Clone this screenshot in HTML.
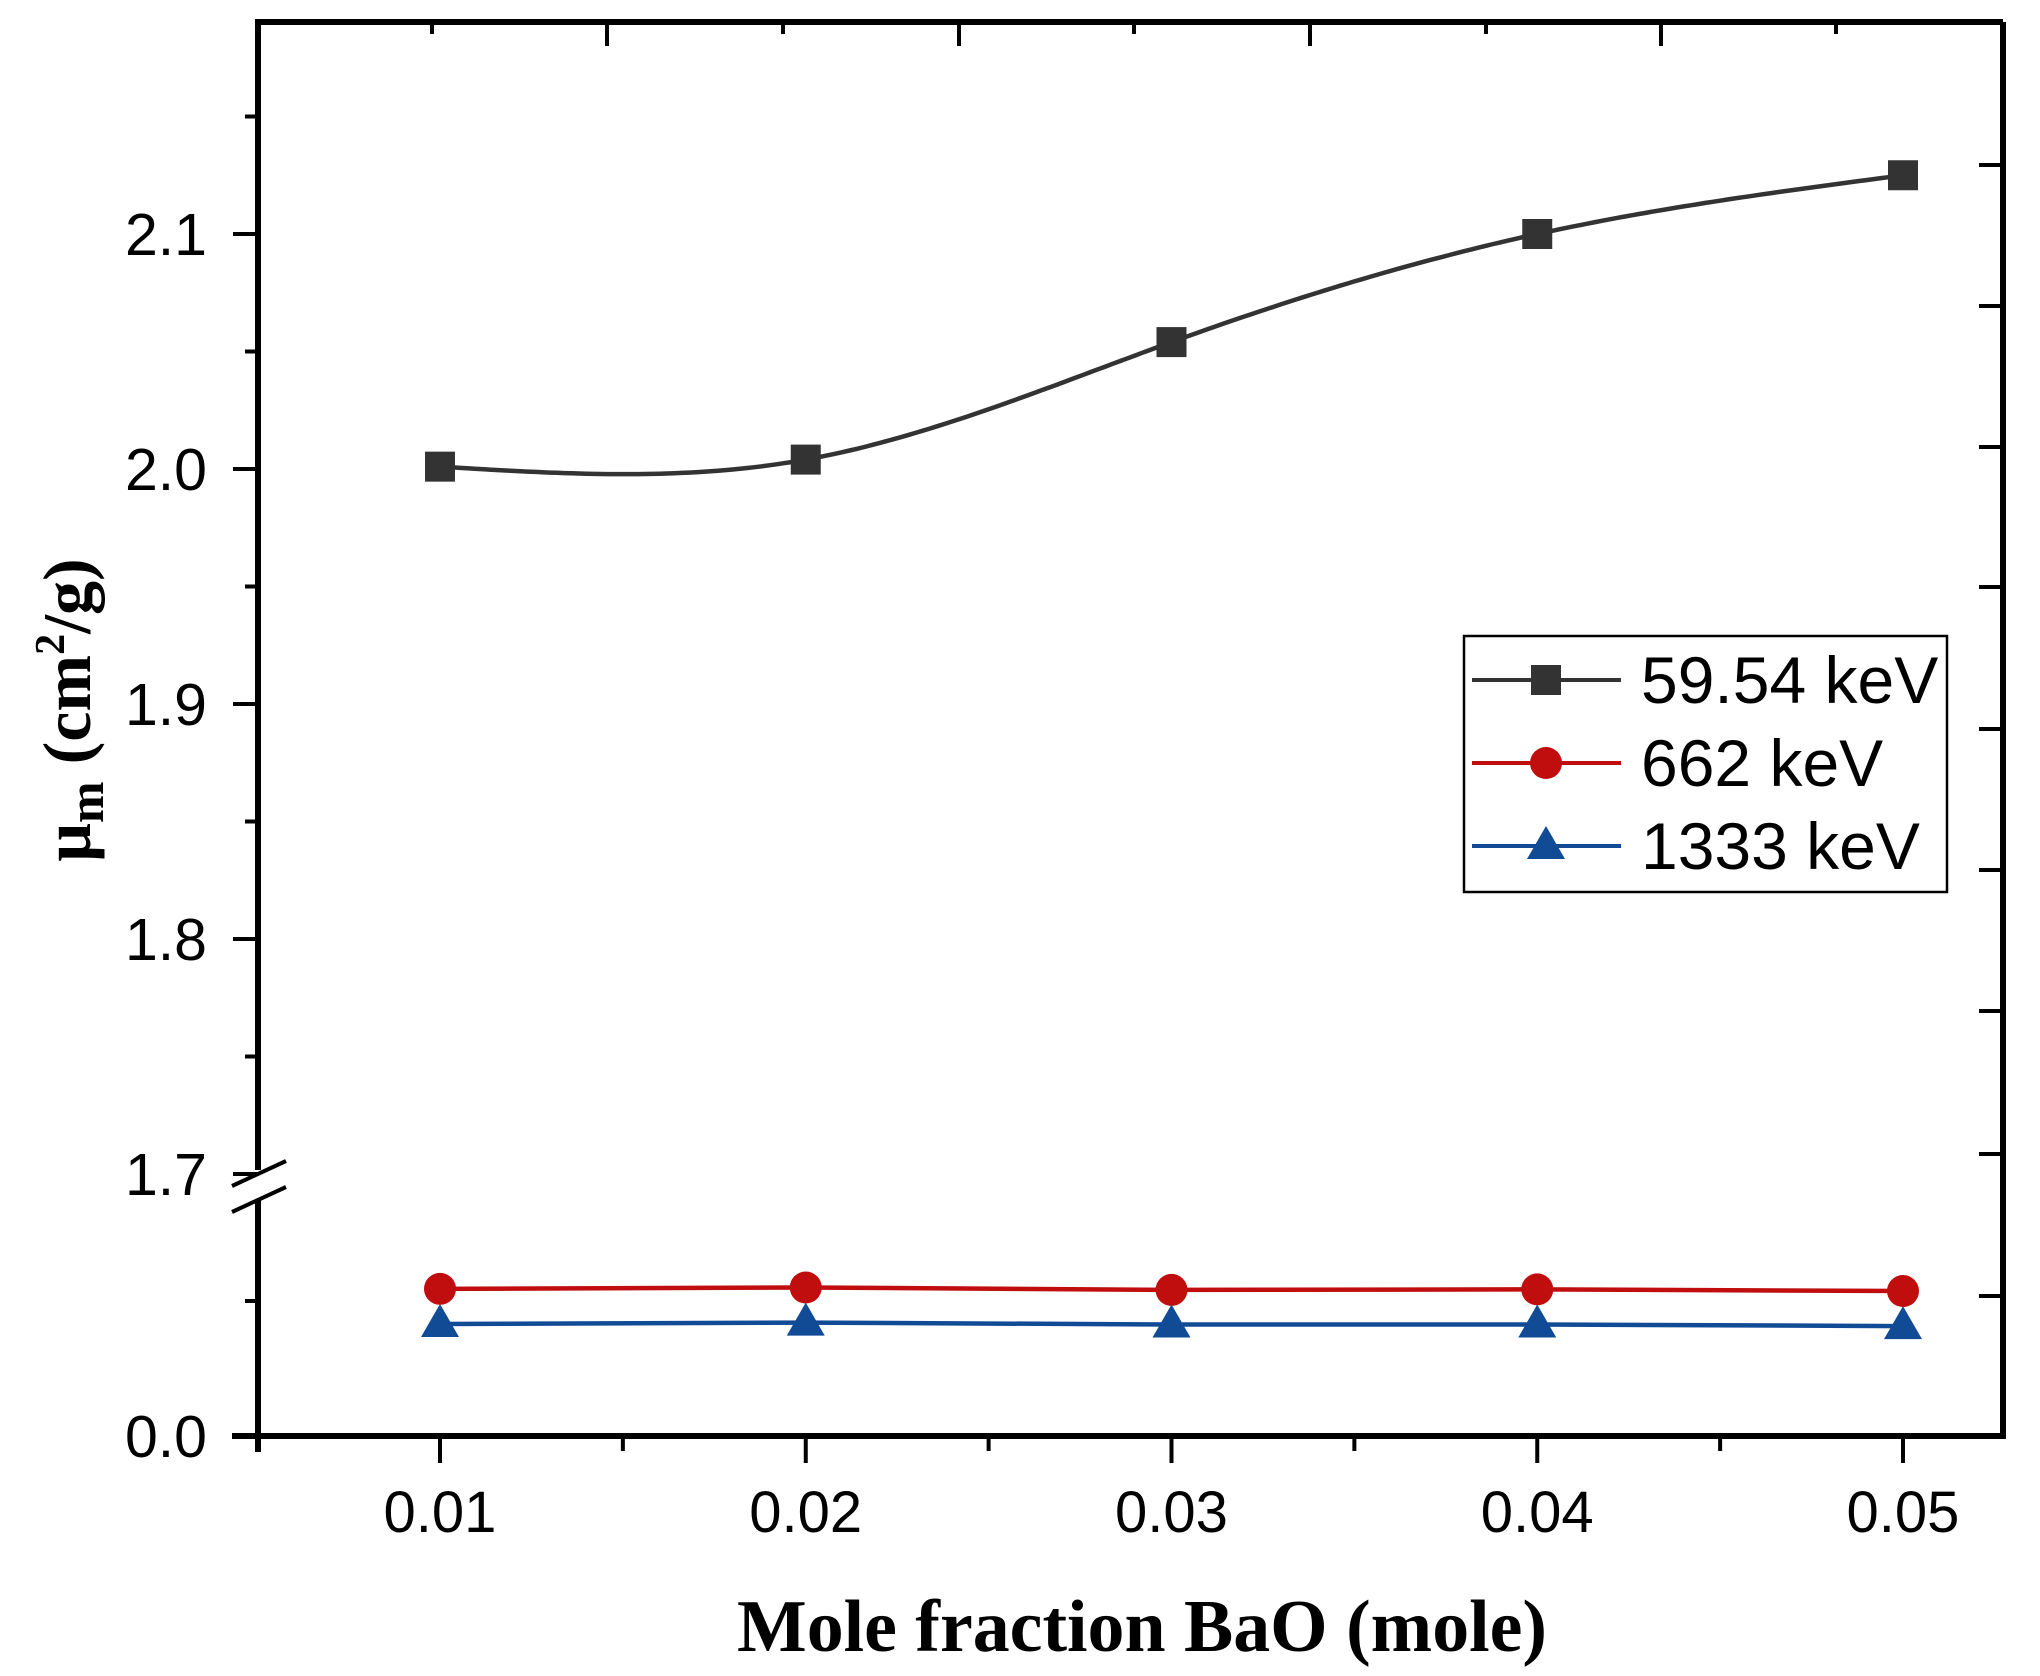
<!DOCTYPE html>
<html><head><meta charset="utf-8"><style>
html,body{margin:0;padding:0;background:#fff;}
svg{display:block;}
</style></head><body>
<svg id="chart" width="2040" height="1676" viewBox="0 0 2040 1676" xmlns="http://www.w3.org/2000/svg"></svg>
<script>
const categories = [0.01, 0.02, 0.03, 0.04, 0.05];
const series59 = [2.001, 2.004, 2.054, 2.100, 2.125];
const series662 = [0.0545, 0.055, 0.0541, 0.0543, 0.0537];
const series1333 = [0.0415, 0.042, 0.0413, 0.0413, 0.0407];
const xTickLabels = ["0.01", "0.02", "0.03", "0.04", "0.05"];
const yUpperTickLabels = ["1.7", "1.8", "1.9", "2.0", "2.1"];
const yLowerTickLabels = ["0.0"];
const legendLabels = ["59.54 keV", "662 keV", "1333 keV"];

const NS = "http://www.w3.org/2000/svg";
const svg = document.getElementById('chart');
function mk(tag, attrs, parent) {
  const e = document.createElementNS(NS, tag);
  for (const k in attrs) e.setAttribute(k, attrs[k]);
  (parent || svg).appendChild(e);
  return e;
}
const L = 258, R = 2003, T = 22, B = 1436;
function xS(v) { return 440 + (v - 0.01) * 36575; }
function yU(v) { return 1174 - (v - 1.7) * 2350; }
function yL(v) { return 1436 - v * 2700; }

let g = mk('g', {});


mk('line', {x1: L, y1: T, x2: R, y2: T, stroke: '#000', 'stroke-width': 6}, g);
mk('line', {x1: R, y1: T, x2: R, y2: B, stroke: '#000', 'stroke-width': 6}, g);
mk('line', {x1: 232, y1: B, x2: R + 3, y2: B, stroke: '#000', 'stroke-width': 6}, g);
mk('line', {x1: L, y1: T - 3, x2: L, y2: 1170, stroke: '#000', 'stroke-width': 6}, g);
mk('line', {x1: L, y1: 1200, x2: L, y2: B + 16, stroke: '#000', 'stroke-width': 6}, g);
mk('rect', {x: 240, y: 1172, width: 40, height: 26, fill: '#fff'}, g);
mk('line', {x1: 232, y1: 1186, x2: 286, y2: 1161, stroke: '#000', 'stroke-width': 4}, g);
mk('line', {x1: 232, y1: 1212, x2: 286, y2: 1187, stroke: '#000', 'stroke-width': 4}, g);

[432, 607, 783, 959, 1134, 1310, 1486, 1661, 1836].forEach((x, i) => {
  const t = mk('line', {x1: x, y1: T, x2: x, y2: T + (i % 2 ? 24 : 12), stroke: '#000', 'stroke-width': 4});
  
  
});
[165, 306, 447, 587, 729, 870, 1011, 1154, 1296].forEach(y => {
  const t = mk('line', {x1: R, y1: y, x2: R - 24, y2: y, stroke: '#000', 'stroke-width': 4});
  
  
});

for (let i = 0; i < categories.length; i++) {
  const x = xS(categories[i]);
  const t = mk('line', {x1: x, y1: B, x2: x, y2: B + 27, stroke: '#000', 'stroke-width': 4});
  
  
  const tx = mk('text', {x: x, y: 1532, 'text-anchor': 'middle', 'font-family': 'Liberation Sans, sans-serif', 'font-size': 58});
  tx.textContent = xTickLabels[i];
  
  
  if (i < categories.length - 1) {
    const mx = xS(categories[i] + 0.005);
    const m = mk('line', {x1: mx, y1: B, x2: mx, y2: B + 15, stroke: '#000', 'stroke-width': 4});
    
    
  }
}
for (let i = 0; i < yUpperTickLabels.length; i++) {
  const v = parseFloat(yUpperTickLabels[i]);
  const y = yU(v);
  const t = mk('line', {x1: L, y1: y, x2: L - 25, y2: y, stroke: '#000', 'stroke-width': 4});
  
  
  const tx = mk('text', {x: 207, y: y + 21, 'text-anchor': 'end', 'font-family': 'Liberation Sans, sans-serif', 'font-size': 59});
  tx.textContent = yUpperTickLabels[i];
  
  
  const my = yU(v + 0.05);
  const m = mk('line', {x1: L, y1: my, x2: L - 13, y2: my, stroke: '#000', 'stroke-width': 4});
  
  
}
{
  const y0 = yL(0);
  const tx = mk('text', {x: 207, y: y0 + 21, 'text-anchor': 'end', 'font-family': 'Liberation Sans, sans-serif', 'font-size': 59});
  tx.textContent = yLowerTickLabels[0];
  
  
  const m = mk('line', {x1: L, y1: yL(0.05), x2: L - 13, y2: yL(0.05), stroke: '#000', 'stroke-width': 4});
  
  
}

function spline(xs, ys) {
  const n = xs.length, h = [], a = [], l = [1], mu = [0], z = [0], c = new Array(n).fill(0), b = [], d = [];
  for (let i = 0; i < n - 1; i++) h.push(xs[i + 1] - xs[i]);
  for (let i = 1; i < n - 1; i++) a[i] = 3 / h[i] * (ys[i + 1] - ys[i]) - 3 / h[i - 1] * (ys[i] - ys[i - 1]);
  for (let i = 1; i < n - 1; i++) {
    l[i] = 2 * (xs[i + 1] - xs[i - 1]) - h[i - 1] * mu[i - 1];
    mu[i] = h[i] / l[i];
    z[i] = (a[i] - h[i - 1] * z[i - 1]) / l[i];
  }
  for (let j = n - 2; j >= 0; j--) {
    c[j] = z[j] - mu[j] * c[j + 1];
    b[j] = (ys[j + 1] - ys[j]) / h[j] - h[j] * (c[j + 1] + 2 * c[j]) / 3;
    d[j] = (c[j + 1] - c[j]) / (3 * h[j]);
  }
  return function (x) {
    let j = Math.min(n - 2, Math.max(0, xs.findIndex((v, k) => k < n - 1 && x <= xs[k + 1])));
    const dx = x - xs[j];
    return ys[j] + b[j] * dx + c[j] * dx * dx + d[j] * dx * dx * dx;
  };
}
const f = spline(categories, series59);
let dstr = '';
for (let k = 0; k <= 200; k++) {
  const xv = categories[0] + (categories[4] - categories[0]) * k / 200;
  dstr += (k ? 'L' : 'M') + xS(xv).toFixed(1) + ' ' + yU(f(xv)).toFixed(1);
}
const p59 = mk('path', {d: dstr, fill: 'none', stroke: '#333', 'stroke-width': 4.5});



function polyline(vals, color, name) {
  const pts = categories.map((c, i) => xS(c) + ',' + yL(vals[i])).join(' ');
  const p = mk('polyline', {points: pts, fill: 'none', stroke: color, 'stroke-width': 4.5});
  
  
}
polyline(series662, '#c00d0d', 'line-662keV');
polyline(series1333, '#114b96', 'line-1333keV');

function square(x, y, parent) { return mk('rect', {x: x - 15, y: y - 15, width: 30, height: 30, fill: '#333'}, parent); }
function circle(x, y, parent) { return mk('circle', {cx: x, cy: y, r: 16, fill: '#c00d0d'}, parent); }
function tri(x, y, parent) { return mk('polygon', {points: `${x},${y - 20} ${x + 19},${y + 13} ${x - 19},${y + 13}`, fill: '#114b96'}, parent); }

for (let i = 0; i < categories.length; i++) {
  const s = square(xS(categories[i]), yU(series59[i]));
  
  
  const c = circle(xS(categories[i]), yL(series662[i]));
  
  
  const t = tri(xS(categories[i]), yL(series1333[i]));
  
  
}

const lg = mk('g', {});


mk('rect', {x: 1464, y: 636, width: 483, height: 256, fill: '#fff', stroke: '#000', 'stroke-width': 2.5}, lg);
const colors = ['#333', '#c00d0d', '#114b96'];
const ly = [680, 763, 846];
const markers = [square, circle, tri];
for (let i = 0; i < 3; i++) {
  const e = mk('g', {}, lg);
  
  
  mk('line', {x1: 1472, y1: ly[i], x2: 1621, y2: ly[i], stroke: colors[i], 'stroke-width': 4}, e);
  markers[i](1546, ly[i], e);
  const t = mk('text', {x: 1641, y: ly[i] + 23, 'font-family': 'Liberation Sans, sans-serif', 'font-size': 66}, e);
  t.textContent = legendLabels[i];
}

const xt = mk('text', {x: 1142, y: 1651, 'text-anchor': 'middle', 'font-family': 'Liberation Serif, serif', 'font-weight': 'bold', 'font-size': 74, textLength: 810, lengthAdjust: 'spacingAndGlyphs'});
xt.textContent = 'Mole fraction BaO (mole)';



const yt = mk('text', {transform: 'translate(90,710) rotate(-90)', 'text-anchor': 'middle', 'font-family': 'Liberation Serif, serif', 'font-weight': 'bold', 'font-size': 68});


const t1 = mk('tspan', {}, yt); t1.textContent = 'μ';
const t2 = mk('tspan', {dy: 13, 'font-size': 50}, yt); t2.textContent = 'm';
const t3 = mk('tspan', {dy: -13}, yt); t3.textContent = ' (cm';
const t4 = mk('tspan', {dy: -26, 'font-size': 42}, yt); t4.textContent = '2';
const t5 = mk('tspan', {dy: 26}, yt); t5.textContent = '/g)';
</script>
</body></html>
